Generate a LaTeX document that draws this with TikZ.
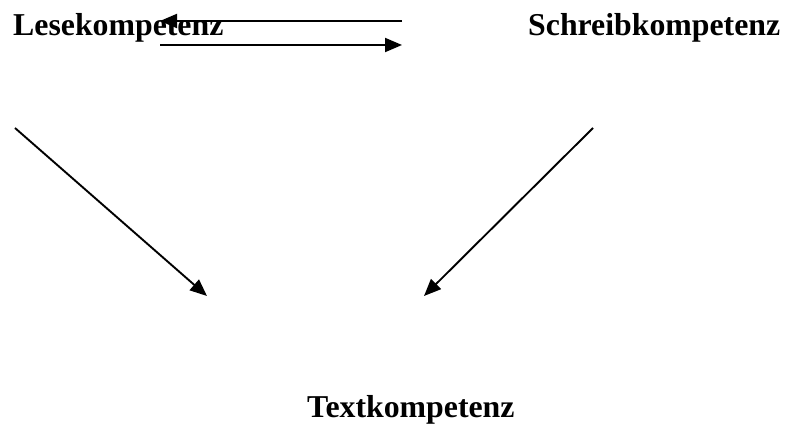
\documentclass[tikz,border=0pt]{standalone}
\usepackage{fontspec}
\setmainfont{Liberation Serif}
\usetikzlibrary{arrows.meta}
\tikzset{
  lbl/.style={anchor=base west, inner sep=0pt, font=\fontsize{31.8}{38}\selectfont\bfseries},
  conn/.style={line width=1.9pt, -{Triangle[length=17pt,width=14pt]}}
}
\begin{document}
\begin{tikzpicture}[x=1pt,y=-1pt]
\useasboundingbox (0,0) rectangle (786,430);
\node[lbl] (lese) at (13,36) {Lesekompetenz};
\node[lbl] (schreib) at (528,36) {Schreibkompetenz};
\node[lbl] (text) at (307,417) {Textkompetenz};
\coordinate (a1s) at (402,21);
\coordinate (a1e) at (160,21);
\coordinate (a2s) at (160,45);
\coordinate (a2e) at (402,45);
\coordinate (d1s) at (15,128);
\coordinate (d1e) at (207,296);
\coordinate (d2s) at (593,128);
\coordinate (d2e) at (424,296);
\draw[conn] (a1s) -- (a1e);
\draw[conn] (a2s) -- (a2e);
\draw[conn] (d1s) -- (d1e);
\draw[conn] (d2s) -- (d2e);
\end{tikzpicture}
\end{document}
